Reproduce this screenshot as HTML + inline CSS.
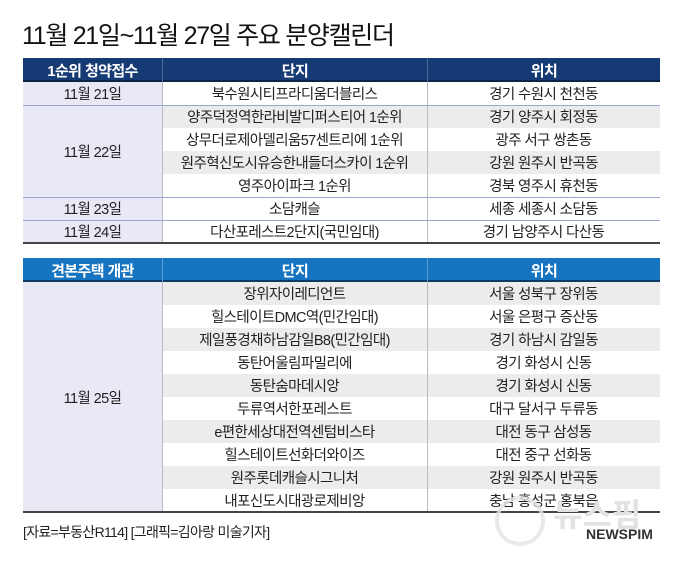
<!DOCTYPE html>
<html><head><meta charset="utf-8"><style>
body{margin:0;width:680px;height:564px;background:#fff;position:relative;overflow:hidden;font-family:"Liberation Sans","Noto Sans CJK KR",sans-serif;color:#222}
.a{position:absolute;box-sizing:border-box}
.t{display:flex;align-items:center;justify-content:center;font-size:14.5px;letter-spacing:-0.6px}
.h{color:#fff;font-weight:bold;font-size:15px}
</style></head><body>
<div class="a" style="left:22px;top:16px;font-size:25px;letter-spacing:-1.3px;color:#111">11월 21일~11월 27일 주요 분양캘린더</div>

<!-- table 1 -->
<div class="a" style="left:23px;top:58px;width:637px;height:24px;background:#163a74;border-bottom:2px solid #0d2347"></div>
<div class="a t h" style="left:23px;top:58px;width:139px;height:24px">1순위 청약접수</div>
<div class="a t h" style="left:162px;top:58px;width:265px;height:24px;border-left:1px solid #4a6a9a">단지</div>
<div class="a t h" style="left:427px;top:58px;width:233px;height:24px;border-left:1px solid #4a6a9a">위치</div>
<div class="a" style="left:23px;top:82px;width:139px;height:161px;background:#e8e9f4"></div>
<div class="a" style="left:162px;top:105px;width:498px;height:23px;background:#ececec"></div>
<div class="a" style="left:162px;top:151px;width:498px;height:23px;background:#ececec"></div>
<div class="a" style="left:162px;top:82px;width:1px;height:161px;background:#bbb"></div>
<div class="a" style="left:427px;top:82px;width:1px;height:161px;background:#bbb"></div>
<div class="a" style="left:23px;top:105px;width:637px;height:1px;background:#9aa6cc"></div>
<div class="a" style="left:23px;top:197px;width:637px;height:1px;background:#9aa6cc"></div>
<div class="a" style="left:23px;top:220px;width:637px;height:1px;background:#9aa6cc"></div>
<div class="a" style="left:23px;top:242px;width:637px;height:2px;background:#444"></div>
<div class="a t" style="left:23px;top:82px;width:139px;height:23px">11월 21일</div>
<div class="a t" style="left:23px;top:105px;width:139px;height:92px">11월 22일</div>
<div class="a t" style="left:23px;top:197px;width:139px;height:23px">11월 23일</div>
<div class="a t" style="left:23px;top:220px;width:139px;height:23px">11월 24일</div>
<div class="a t" style="left:162px;top:82px;width:265px;height:23px">북수원시티프라디움더블리스</div>
<div class="a t" style="left:162px;top:105px;width:265px;height:23px">양주덕정역한라비발디퍼스티어 1순위</div>
<div class="a t" style="left:162px;top:128px;width:265px;height:23px">상무더로제아델리움57센트리에 1순위</div>
<div class="a t" style="left:162px;top:151px;width:265px;height:23px">원주혁신도시유승한내들더스카이 1순위</div>
<div class="a t" style="left:162px;top:174px;width:265px;height:23px">영주아이파크 1순위</div>
<div class="a t" style="left:162px;top:197px;width:265px;height:23px">소담캐슬</div>
<div class="a t" style="left:162px;top:220px;width:265px;height:23px">다산포레스트2단지(국민임대)</div>
<div class="a t" style="left:427px;top:82px;width:233px;height:23px">경기 수원시 천천동</div>
<div class="a t" style="left:427px;top:105px;width:233px;height:23px">경기 양주시 회정동</div>
<div class="a t" style="left:427px;top:128px;width:233px;height:23px">광주 서구 쌍촌동</div>
<div class="a t" style="left:427px;top:151px;width:233px;height:23px">강원 원주시 반곡동</div>
<div class="a t" style="left:427px;top:174px;width:233px;height:23px">경북 영주시 휴천동</div>
<div class="a t" style="left:427px;top:197px;width:233px;height:23px">세종 세종시 소담동</div>
<div class="a t" style="left:427px;top:220px;width:233px;height:23px">경기 남양주시 다산동</div>

<!-- table 2 -->
<div class="a" style="left:23px;top:258px;width:637px;height:24px;background:#1674c0;border-bottom:2px solid #0d3a66"></div>
<div class="a t h" style="left:23px;top:258px;width:139px;height:24px">견본주택 개관</div>
<div class="a t h" style="left:162px;top:258px;width:265px;height:24px;border-left:1px solid #5a9ad0">단지</div>
<div class="a t h" style="left:427px;top:258px;width:233px;height:24px;border-left:1px solid #5a9ad0">위치</div>
<div class="a" style="left:23px;top:282px;width:139px;height:230px;background:#e8e9f4"></div>
<div class="a" style="left:162px;top:282px;width:498px;height:23px;background:#ececec"></div>
<div class="a" style="left:162px;top:328px;width:498px;height:23px;background:#ececec"></div>
<div class="a" style="left:162px;top:374px;width:498px;height:23px;background:#ececec"></div>
<div class="a" style="left:162px;top:420px;width:498px;height:23px;background:#ececec"></div>
<div class="a" style="left:162px;top:466px;width:498px;height:23px;background:#ececec"></div>
<div class="a" style="left:162px;top:282px;width:1px;height:230px;background:#bbb"></div>
<div class="a" style="left:427px;top:282px;width:1px;height:230px;background:#bbb"></div>
<div class="a" style="left:23px;top:511px;width:637px;height:2px;background:#444"></div>
<div class="a t" style="left:23px;top:282px;width:139px;height:230px">11월 25일</div>
<div class="a t" style="left:162px;top:282px;width:265px;height:23px">장위자이레디언트</div>
<div class="a t" style="left:162px;top:305px;width:265px;height:23px">힐스테이트DMC역(민간임대)</div>
<div class="a t" style="left:162px;top:328px;width:265px;height:23px">제일풍경채하남감일B8(민간임대)</div>
<div class="a t" style="left:162px;top:351px;width:265px;height:23px">동탄어울림파밀리에</div>
<div class="a t" style="left:162px;top:374px;width:265px;height:23px">동탄숨마데시앙</div>
<div class="a t" style="left:162px;top:397px;width:265px;height:23px">두류역서한포레스트</div>
<div class="a t" style="left:162px;top:420px;width:265px;height:23px">e편한세상대전역센텀비스타</div>
<div class="a t" style="left:162px;top:443px;width:265px;height:23px">힐스테이트선화더와이즈</div>
<div class="a t" style="left:162px;top:466px;width:265px;height:23px">원주롯데캐슬시그니처</div>
<div class="a t" style="left:162px;top:489px;width:265px;height:23px">내포신도시대광로제비앙</div>
<div class="a t" style="left:427px;top:282px;width:233px;height:23px">서울 성북구 장위동</div>
<div class="a t" style="left:427px;top:305px;width:233px;height:23px">서울 은평구 증산동</div>
<div class="a t" style="left:427px;top:328px;width:233px;height:23px">경기 하남시 감일동</div>
<div class="a t" style="left:427px;top:351px;width:233px;height:23px">경기 화성시 신동</div>
<div class="a t" style="left:427px;top:374px;width:233px;height:23px">경기 화성시 신동</div>
<div class="a t" style="left:427px;top:397px;width:233px;height:23px">대구 달서구 두류동</div>
<div class="a t" style="left:427px;top:420px;width:233px;height:23px">대전 동구 삼성동</div>
<div class="a t" style="left:427px;top:443px;width:233px;height:23px">대전 중구 선화동</div>
<div class="a t" style="left:427px;top:466px;width:233px;height:23px">강원 원주시 반곡동</div>
<div class="a t" style="left:427px;top:489px;width:233px;height:23px">충남 홍성군 홍북읍</div>

<div class="a" style="left:23px;top:522px;font-size:14px;letter-spacing:-0.7px;color:#222">[자료=부동산R114] [그래픽=김아랑 미술기자]</div>
<div class="a" style="left:495px;top:496px;width:50px;height:50px;border-radius:50%;border:4px solid #e4e4e4;opacity:.8"></div>
<div class="a" style="left:553px;top:490px;font-size:32px;font-weight:bold;color:#e2e2e2">뉴스핌</div>
<div class="a" style="left:586px;top:526px;font-size:14px;font-weight:bold;color:#333">NEWSPIM</div>
</body></html>
